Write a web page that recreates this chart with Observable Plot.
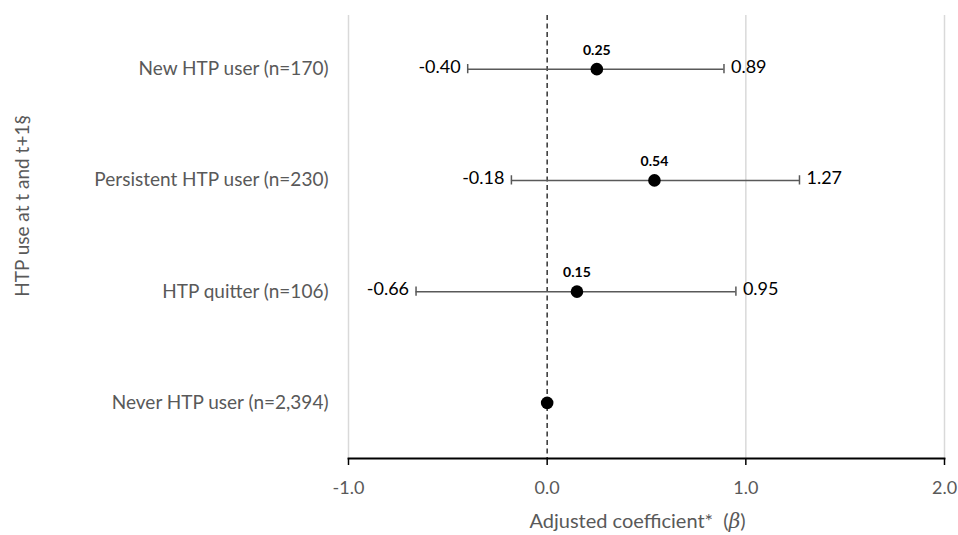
<!DOCTYPE html>
<html>
<head>
<meta charset="utf-8">
<script src="https://cdn.jsdelivr.net/npm/d3@7"></script>
<script src="https://cdn.jsdelivr.net/npm/@observablehq/plot@0.6"></script>
<style>
  html, body { margin: 0; padding: 0; background: #fff; }
  #chart svg { font-family: Lato, "Open Sans", sans-serif; }
</style>
</head>
<body>
<div id="chart"></div>
<script>
const groups = ["New HTP user (n=170)", "Persistent HTP user (n=230)", "HTP quitter (n=106)", "Never HTP user (n=2,394)"];
const estimates = [0.25, 0.54, 0.15, 0];
const lower = [-0.40, -0.18, -0.66, null];
const upper = [0.89, 1.27, 0.95, null];
const xTicks = [-1, 0, 1, 2];
const yTitle = "HTP use at t and t+1§";
const xTitle = "Adjusted coefficient*  (β)";

const data = groups.map((g, i) => ({group: g, est: estimates[i], lo: lower[i], hi: upper[i]}));
const ci = data.filter(d => d.lo != null);
const hy = s => s.replace("\u2212", "-");
const fmt = v => hy(d3.format(".2f")(v));
const tfmt = v => hy(d3.format(".1f")(v));

const gray = "#595959";
const plot = Plot.plot({
  width: 958,
  height: 535,
  marginTop: 13,
  marginBottom: 77,
  marginLeft: 348,
  marginRight: 14,
  style: {fontSize: "19px", color: gray, background: "#fff"},
  x: {domain: [-1, 2], ticks: xTicks, tickFormat: tfmt, label: null},
  y: {type: "band", domain: groups, padding: 0, round: false, label: null},
  marks: [
    Plot.ruleX([-1, 1, 2], {stroke: "#d9d9d9", strokeWidth: 1.5, insetTop: 2}),
    Plot.ruleX([0], {stroke: "#333", strokeWidth: 1.5, strokeDasharray: "5,3.5", insetTop: 2}),
    Plot.ruleY(ci, {y: "group", x1: "lo", x2: "hi", stroke: gray, strokeWidth: 1.5}),
    Plot.tickX(ci, {x: "lo", y: "group", stroke: gray, strokeWidth: 1.5, insetTop: 51, insetBottom: 51}),
    Plot.tickX(ci, {x: "hi", y: "group", stroke: gray, strokeWidth: 1.5, insetTop: 51, insetBottom: 51}),
    Plot.dot(data, {x: "est", y: "group", r: 6.3, fill: "#000", stroke: null}),
    Plot.text(ci, {x: "est", y: "group", text: d => fmt(d.est), dy: -19, fontWeight: "bold", fontSize: 14, fill: "#000"}),
    Plot.text(ci, {x: "lo", y: "group", text: d => fmt(d.lo), textAnchor: "end", dx: -7, dy: -2, fontSize: 18, fill: "#000"}),
    Plot.text(ci, {x: "hi", y: "group", text: d => fmt(d.hi), textAnchor: "start", dx: 7, dy: -2, fontSize: 18, fill: "#000"}),
    Plot.frame({anchor: "bottom", stroke: "#000", strokeWidth: 1.8}),
    Plot.axisX({ticks: xTicks, tickFormat: tfmt, tickSize: 7, tickPadding: 16, stroke: "#000", strokeWidth: 1.5, fill: gray, fontSize: 18, label: null}),
    Plot.axisY({tickSize: 0, tickPadding: 20, fill: gray, fontSize: 19, label: null}),
    Plot.text([yTitle], {frameAnchor: "left", text: d => d, rotate: -90, textAnchor: "middle", dx: -326, dy: -30, fill: gray, fontSize: 19}),
    Plot.text([xTitle], {frameAnchor: "bottom", text: d => d, dy: 69, dx: -9, fill: gray, fontSize: 20, className: "xtitle"})
  ]
});
document.getElementById("chart").appendChild(plot);
// italic beta
d3.select(plot).selectAll("g.xtitle text").each(function() {
  const t = d3.select(this);
  const s = t.text();
  const i = s.indexOf("β");
  if (i >= 0) {
    t.text(null);
    t.append("tspan").text(s.slice(0, i));
    t.append("tspan").attr("font-style", "italic").attr("font-family", "DejaVu Serif, serif").text("β");
    t.append("tspan").text(s.slice(i + 1));
  }
});
</script>
</body>
</html>
